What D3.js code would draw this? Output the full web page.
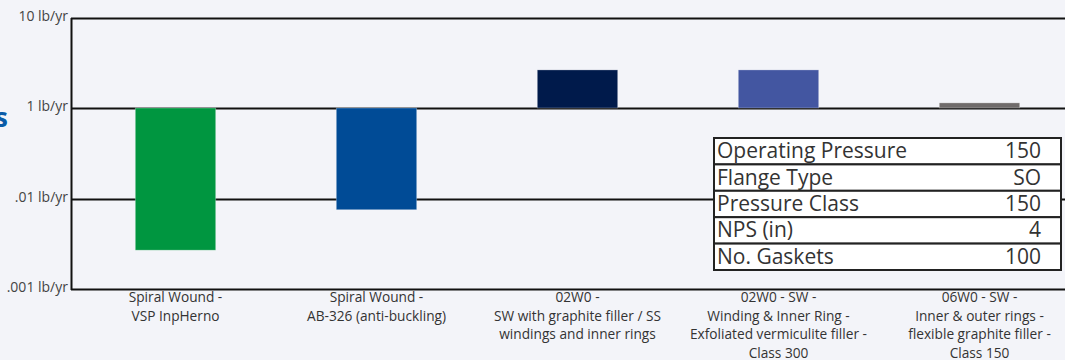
<!DOCTYPE html>
<html>
<head>
<meta charset="utf-8">
<script src="https://cdn.jsdelivr.net/npm/d3@7"></script>
<style>
  html, body { margin: 0; padding: 0; background: #f3f4f9; }
  svg { display: block; font-family: "Open Sans", Lato, sans-serif; }
</style>
</head>
<body>
<div id="chart"></div>
<script>
const CATEGORIES = [
  ['Spiral Wound -', 'VSP InpHerno'],
  ['Spiral Wound -', 'AB-326 (anti-buckling)'],
  ['02W0 -', 'SW with graphite filler / SS', 'windings and inner rings'],
  ['02W0 - SW -', 'Winding & Inner Ring -', 'Exfoliated vermiculite filler -', 'Class 300'],
  ['06W0 - SW -', 'Inner & outer rings -', 'flexible graphite filler -', 'Class 150'],
];
const VALUES = [0.0027, 0.0076, 2.65, 2.65, 1.14];
const COLORS = ['#009640', '#004b96', '#001a4b', '#4356a1', '#6f6b6b'];
const TICKS = [10, 1, 0.01, 0.001];
const TICK_LABELS = ['10 lb/yr', '1 lb/yr', '.01 lb/yr', '.001 lb/yr'];
const TABLE_ROWS = ['Operating Pressure', 'Flange Type', 'Pressure Class', 'NPS (in)', 'No. Gaskets'];
const TABLE_VALUES = ['150', 'SO', '150', '4', '100'];

const W = 1065, H = 360;
const plotLeft = 71, plotTop = 18, plotBottom = 289;

const svg = d3.select('#chart').append('svg')
  .attr('width', W).attr('height', H);

// cut-off title piece at the far left
svg.append('text')
  .attr('x', 8).attr('y', 127)
  .attr('text-anchor', 'end')
  .attr('font-size', '27px').attr('font-weight', 'bold')
  .attr('fill', '#0a5ca8')
  .text('Emissions');

// ticks are spaced evenly in the original, so a piecewise log scale
const y = d3.scaleLog()
  .domain([0.001, 0.01, 1, 10])
  .range([plotBottom, 199, 108, plotTop]);

const x = d3.scaleBand()
  .domain(d3.range(CATEGORIES.length))
  .range([75, 1080])
  .paddingInner(0.6)
  .paddingOuter(0.3);

// grid lines
svg.append('g')
  .selectAll('line')
  .data(TICKS)
  .join('line')
  .attr('x1', plotLeft).attr('x2', W)
  .attr('y1', d => Math.round(y(d)) + 0.5).attr('y2', d => Math.round(y(d)) + 0.5)
  .attr('stroke', '#111').attr('stroke-width', 2);

// bars from the 1 lb/yr baseline
svg.append('g')
  .selectAll('rect')
  .data(VALUES)
  .join('rect')
  .attr('x', (d, i) => x(i))
  .attr('width', x.bandwidth())
  .attr('y', d => Math.min(y(d), y(1)))
  .attr('height', d => Math.abs(y(d) - y(1)))
  .attr('fill', (d, i) => COLORS[i])
  .attr('stroke', 'rgba(255,255,255,0.35)')
  .attr('stroke-width', 0.8);

// y axis
svg.append('line')
  .attr('x1', plotLeft + 0.5).attr('x2', plotLeft + 0.5)
  .attr('y1', plotTop).attr('y2', plotBottom + 1)
  .attr('stroke', '#111').attr('stroke-width', 2);

svg.append('g')
  .selectAll('text')
  .data(TICKS)
  .join('text')
  .attr('x', plotLeft - 3)
  .attr('y', d => y(d) + 3)
  .attr('text-anchor', 'end')
  .attr('font-size', '14px')
  .attr('fill', '#444')
  .text((d, i) => TICK_LABELS[i]);

// category labels
const cat = svg.append('g')
  .selectAll('text')
  .data(CATEGORIES)
  .join('text')
  .attr('text-anchor', 'middle')
  .attr('font-size', '13.7px')
  .attr('fill', '#333')
  .attr('transform', (d, i) => `translate(${x(i) + x.bandwidth() / 2},${plotBottom + 13})`);
cat.selectAll('tspan')
  .data(d => d)
  .join('tspan')
  .attr('x', 0)
  .attr('y', (d, i) => i * 18.7)
  .text(d => d);

// parameter table
const tx = 714, tw = 347, ty = 138, rh = 26.4;
const rows = svg.append('g')
  .selectAll('g')
  .data(TABLE_ROWS)
  .join('g')
  .attr('transform', (d, i) => `translate(${tx},${ty + i * rh})`);
rows.append('rect')
  .attr('width', tw).attr('height', rh)
  .attr('fill', '#fff')
  .attr('stroke', '#222').attr('stroke-width', 2);
rows.append('text')
  .attr('x', 3).attr('y', rh / 2 + 7)
  .attr('font-size', '21px').attr('fill', '#333')
  .text(d => d);
rows.append('text')
  .attr('x', tw - 20).attr('y', rh / 2 + 7)
  .attr('text-anchor', 'end')
  .attr('font-size', '21px').attr('fill', '#333')
  .text((d, i) => TABLE_VALUES[i]);
</script>
</body>
</html>
